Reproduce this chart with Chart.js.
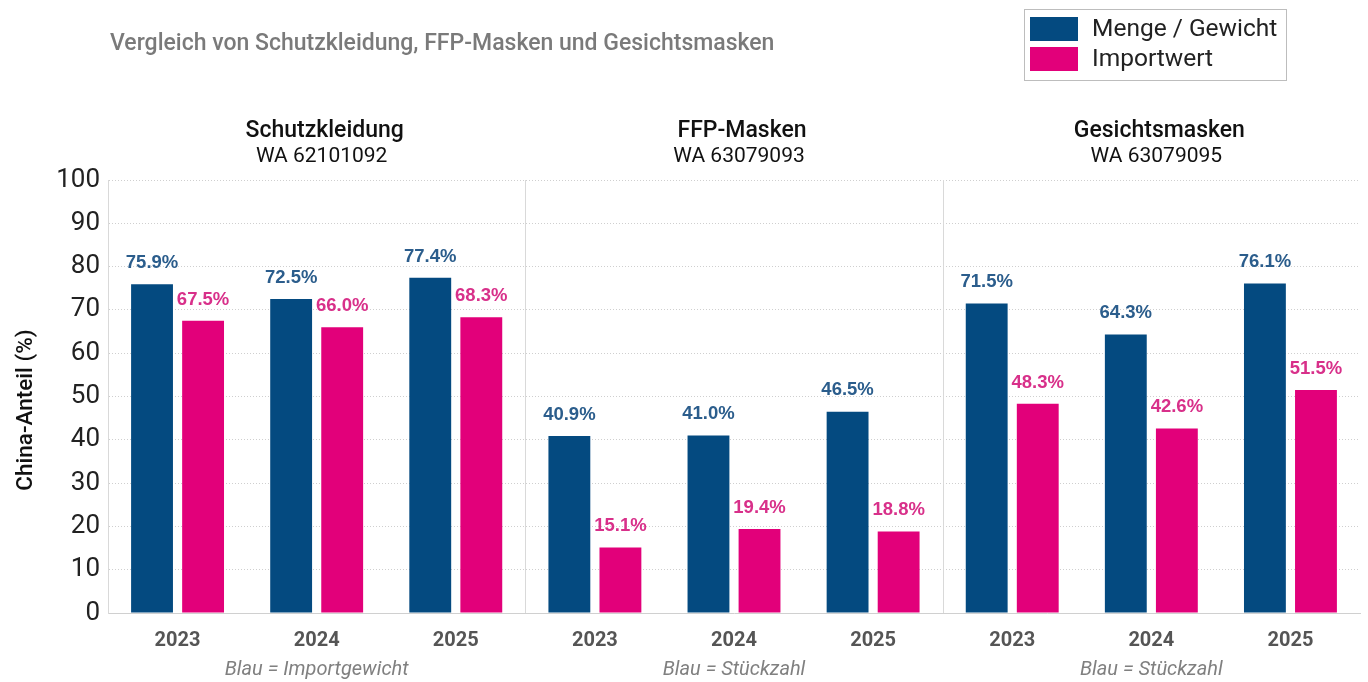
<!DOCTYPE html>
<html>
<head>
<meta charset="utf-8">
<script src="https://cdn.jsdelivr.net/npm/chart.js@4"></script>
<style>
  html, body { margin: 0; padding: 0; background: #fff; }
  #wrap { position: relative; width: 1368px; height: 682px; }
</style>
</head>
<body>
<div id="wrap"><canvas id="chart" width="1368" height="682"></canvas></div>
<script>
const years = ['2023', '2024', '2025', '2023', '2024', '2025', '2023', '2024', '2025'];
const mengeValues = [75.9, 72.5, 77.4, 40.9, 41.0, 46.5, 71.5, 64.3, 76.1];
const importValues = [67.5, 66.0, 68.3, 15.1, 19.4, 18.8, 48.3, 42.6, 51.5];
const panelTitles = ['Schutzkleidung', 'FFP-Masken', 'Gesichtsmasken'];
const panelCodes = ['WA 62101092', 'WA 63079093', 'WA 63079095'];
const panelNotes = ['Blau = Importgewicht', 'Blau = Stückzahl', 'Blau = Stückzahl'];

const blue = '#044a80';
const pink = '#e2007a';
const blueText = '#2b5d8c';
const pinkText = '#d8308a';

// labels, panel titles, separators, legend
const extras = {
    id: 'extras',
    afterDatasetsDraw(chart) {
        const ctx = chart.ctx;
        const area = chart.chartArea;
        const x = chart.scales.x;

        ctx.save();
        // value labels
        chart.data.datasets.forEach((ds, di) => {
            const meta = chart.getDatasetMeta(di);
            ctx.font = 'bold 18.5px "Liberation Sans", Arial, sans-serif';
            ctx.fillStyle = di === 0 ? blueText : pinkText;
            ctx.textAlign = 'center';
            ctx.textBaseline = 'bottom';
            meta.data.forEach((bar, i) => {
                ctx.fillText(ds.data[i].toFixed(1) + '%', bar.x, bar.y - 12);
            });
        });

        // panel separators
        const step = x.getPixelForValue(1) - x.getPixelForValue(0);
        ctx.strokeStyle = '#d9d9d9';
        ctx.lineWidth = 1;
        [2.5, 5.5].forEach(v => {
            const px = Math.round(x.getPixelForValue(0) + step * v) + 0.5;
            ctx.beginPath();
            ctx.moveTo(px, area.top);
            ctx.lineTo(px, area.bottom);
            ctx.stroke();
        });

        // panel titles and notes
        ctx.textAlign = 'center';
        ctx.textBaseline = 'middle';
        panelTitles.forEach((t, p) => {
            const cx = x.getPixelForValue(p * 3 + 1);
            ctx.fillStyle = '#111';
            ctx.font = '500 23px Roboto';
            ctx.fillText(t, cx + 8, 131);
            ctx.font = '21px Roboto';
            ctx.fillText(panelCodes[p], cx + 5, 157);
            ctx.fillStyle = '#808080';
            ctx.font = 'italic 20px Roboto';
            ctx.fillText(panelNotes[p], cx, 670);
        });

        // main title
        ctx.textAlign = 'left';
        ctx.fillStyle = '#7a7a7a';
        ctx.font = '500 23px Roboto';
        ctx.fillText('Vergleich von Schutzkleidung, FFP-Masken und Gesichtsmasken', 110, 44);

        // y title
        ctx.save();
        ctx.translate(26, 410);
        ctx.rotate(-Math.PI / 2);
        ctx.textAlign = 'center';
        ctx.fillStyle = '#111';
        ctx.font = '500 22.5px Roboto';
        ctx.fillText('China-Anteil (%)', 0, 0);
        ctx.restore();

        // legend
        ctx.strokeStyle = '#bdbdbd';
        ctx.strokeRect(1024.5, 9.5, 262, 71);
        ctx.fillStyle = blue;
        ctx.fillRect(1030, 17, 48, 24);
        ctx.fillStyle = pink;
        ctx.fillRect(1030, 47, 48, 24);
        ctx.fillStyle = '#222';
        ctx.font = '24.5px Roboto';
        ctx.textAlign = 'left';
        ctx.fillText(chart.data.datasets[0].label, 1092, 30);
        ctx.fillText(chart.data.datasets[1].label, 1092, 60);
        ctx.restore();
    }
};

new Chart(document.getElementById('chart'), {
    type: 'bar',
    data: {
        labels: years,
        datasets: [
            { label: 'Menge / Gewicht', data: mengeValues, backgroundColor: blue },
            { label: 'Importwert', data: importValues, backgroundColor: pink }
        ]
    },
    options: {
        responsive: false,
        animation: false,
        categoryPercentage: 0.734,
        barPercentage: 0.82,
        layout: { padding: { top: 180, right: 8, left: 0, bottom: 0 } },
        plugins: {
            legend: { display: false },
            tooltip: { enabled: false }
        },
        scales: {
            x: {
                grid: { display: false },
                border: { color: '#d0d0d0' },
                ticks: {
                    color: '#555',
                    font: { family: 'Roboto', size: 20, weight: 'bold' },
                    padding: 8
                },
                afterFit: s => { s.height = 69; }
            },
            y: {
                min: 0,
                max: 100,
                ticks: {
                    stepSize: 10,
                    color: '#222',
                    font: { family: 'Roboto', size: 26 },
                    padding: 8
                },
                grid: { color: '#cfcfcf', drawTicks: false },
                border: { color: '#d9d9d9', dash: [1, 2] },
                afterFit: s => { s.width = 108; }
            }
        }
    },
    plugins: [extras]
});
</script>
</body>
</html>
